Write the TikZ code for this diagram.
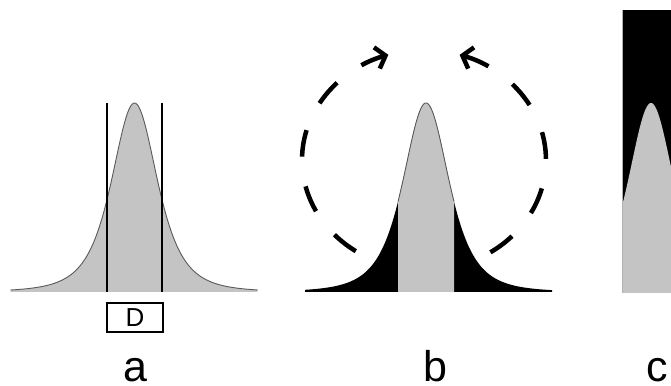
\documentclass[tikz,border=0pt]{standalone}
\usepackage{fontspec}
\setmainfont{Liberation Sans}
\usetikzlibrary{arrows.meta}
\definecolor{curvegray}{HTML}{C4C4C4}
\definecolor{edgegray}{HTML}{5A5A5A}
\tikzset{
  curvefill/.style={fill=curvegray},
  curveline/.style={draw=edgegray, line width=0.9pt},
  cutline/.style={draw=black, line width=1.8pt},
  dasharc/.style={draw=black, line width=4.5pt, dash pattern=on 27pt off 30pt,
    -{Straight Barb[length=9pt,width=22pt,line width=4.5pt]}},
  panellabel/.style={font=\fontsize{43}{43}\selectfont, anchor=base, inner sep=0pt},
  dbox/.style={draw=black, line width=1.4pt, minimum width=56pt, minimum height=29pt,
    inner sep=0pt, font=\fontsize{26}{26}\selectfont}
}
\begin{document}
\begin{tikzpicture}[x=1pt,y=1pt]
\useasboundingbox (0,0) rectangle (671,385);
\clip (0,0) rectangle (671,385);
% ---------- panel a ----------
\fill[curvefill] (10.5,93) -- plot[domain=-124:123,samples=200,smooth] ({134.5+\x},{93+189/(1+(\x/41.92)^2)^2}) -- (257.5,93) -- cycle;
\draw[curveline] plot[domain=-124:123,samples=200,smooth] ({134.5+\x},{93+189/(1+(\x/41.92)^2)^2});
\draw[cutline] (107,282) -- (107,93);
\draw[cutline] (162,282) -- (162,93);
\node[dbox] (D) at (135,67.5) {D};
\node[panellabel] (la) at (135,4) {a};
% ---------- panel b ----------
\fill[black] (305,93) -- plot[domain=-121:126,samples=200,smooth] ({426+\x},{93+189/(1+(\x/41.92)^2)^2}) -- (552,93) -- cycle;
\fill[curvefill] (398,93) -- plot[domain=-28:28,samples=80,smooth] ({426+\x},{93+189/(1+(\x/41.92)^2)^2}) -- (454,93) -- cycle;
\draw[curveline] plot[domain=-28:28,samples=80,smooth] ({426+\x},{93+189/(1+(\x/41.92)^2)^2});
\coordinate (bl) at (355.8,133.8);
\coordinate (br) at (490.4,132.7);
\draw[dasharc] (bl) arc[start angle=236, end angle=107, x radius=122pt, y radius=110pt];
\draw[dasharc] (br) arc[start angle=-57, end angle=73, x radius=122pt, y radius=110pt];
\node[panellabel] (lb) at (435,4) {b};
% ---------- panel c ----------
\fill[black] (622,92) rectangle (680,375);
\fill[curvefill] (622,92) -- plot[domain=-29:28,samples=80,smooth] ({651+\x},{92+190/(1+(\x/41.92)^2)^2}) -- (679,92) -- cycle;
\draw[draw=gray!60, line width=0.8pt] (622,92) -- (622,375);
\node[panellabel] (lc) at (657,4) {c};
\end{tikzpicture}
\end{document}
